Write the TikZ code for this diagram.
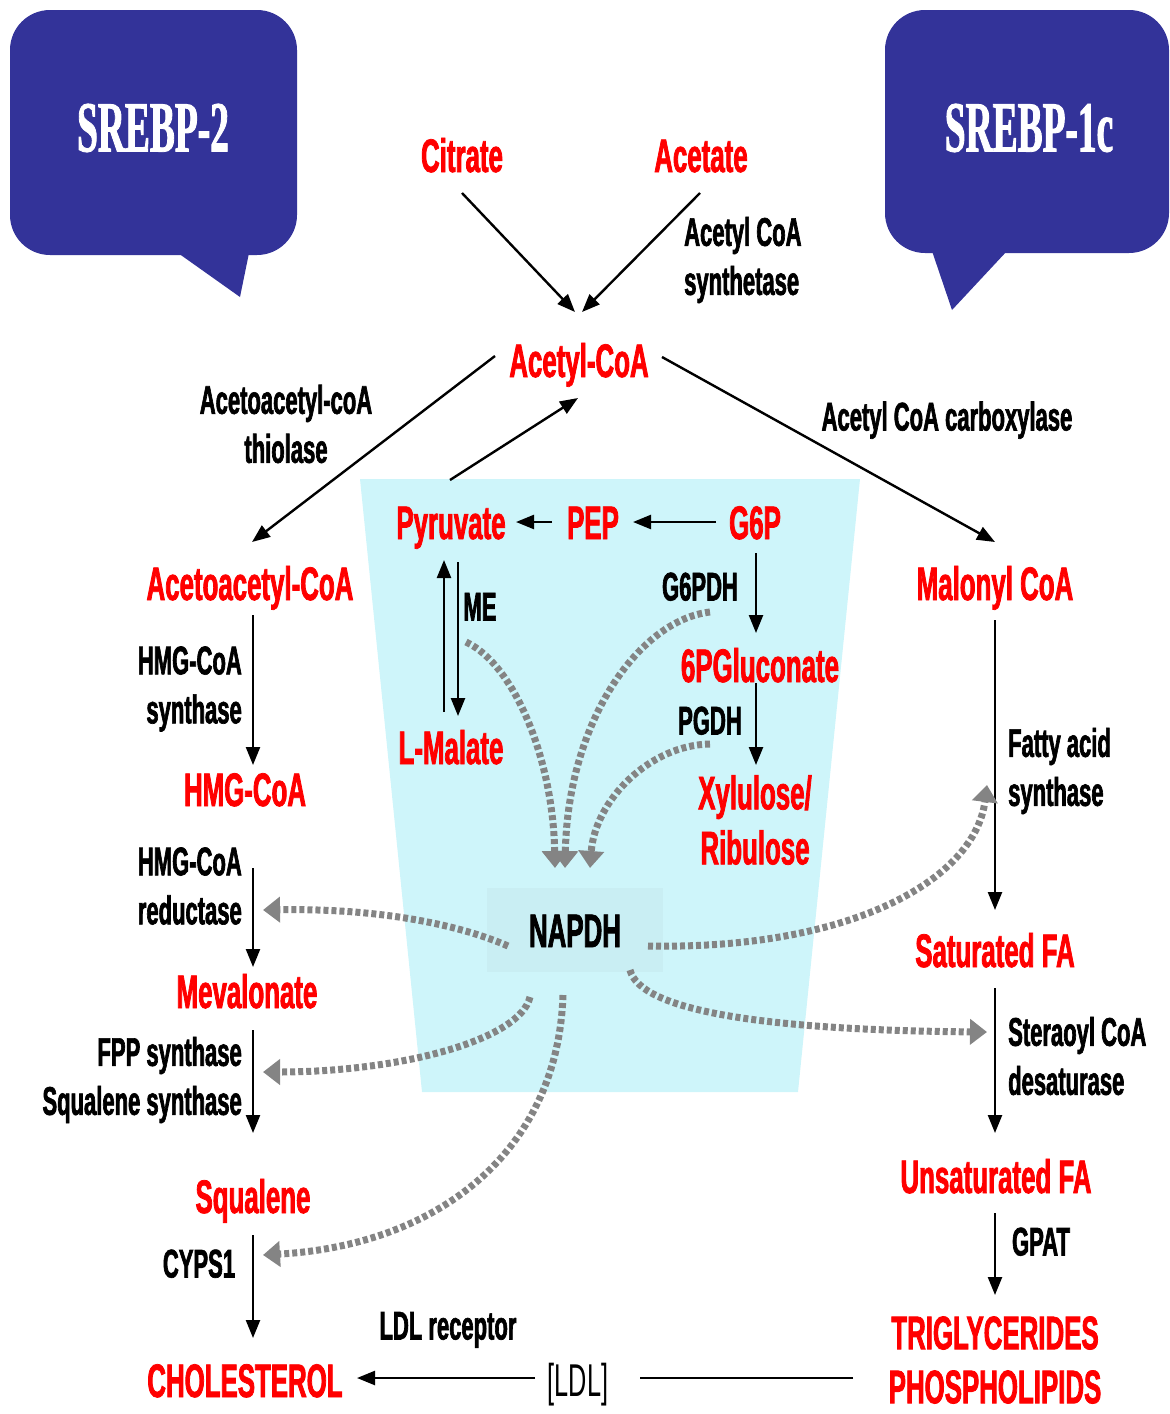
\documentclass[tikz,border=0pt]{standalone}
\usepackage{fontspec}
\usepackage{xcolor}
\usepackage{tikz}
\usetikzlibrary{shapes, arrows, arrows.meta, positioning, calc}

\newfontfamily\condsans[FakeStretch=0.55, BoldFont={Liberation Sans Bold}, BoldFeatures={FakeBold=1.6}]{Liberation Sans}
\newfontfamily\condserif[FakeStretch=0.52, BoldFont={Liberation Serif Bold}, BoldFeatures={FakeBold=1.2}]{Liberation Serif}

\definecolor{bubbleblue}{RGB}{51,51,153}
\definecolor{trapcyan}{RGB}{206,245,250}
\definecolor{napbox}{RGB}{201,238,243}
\definecolor{dashgray}{RGB}{132,132,132}

\tikzset{
    metab/.style={text=red, font=\condsans\bfseries\fontsize{47}{57}\selectfont, inner sep=0pt, text height=34pt, text depth=0pt},
    metabtwo/.style={text=red, font=\condsans\bfseries\fontsize{47}{55}\selectfont, inner sep=0pt, align=center},
    enz/.style={font=\condsans\bfseries\fontsize{40}{49}\selectfont, inner sep=0pt},
    enzone/.style={enz, text height=29pt, text depth=0pt},
    srebp/.style={text=white, font=\condserif\bfseries\fontsize{72}{80}\selectfont, inner sep=0pt},
    arr/.style={-{Triangle[length=18pt,width=14pt]}, line width=2.4pt},
    nadarr/.style={draw=dashgray, line width=7pt, dash pattern=on 5pt off 3pt, -{Triangle[length=17pt,width=25pt]}, dashgray},
}

\begin{document}
\begin{tikzpicture}[x=1pt, y=-1pt]
    \useasboundingbox (0,0) rectangle (1170,1414);

    % Speech bubbles
    \fill[bubbleblue, rounded corners=40pt] (10,10) rectangle (297,255);
    \fill[bubbleblue] (178,253) -- (249,253) -- (240,297) -- cycle;
    \fill[bubbleblue, rounded corners=40pt] (885,10) rectangle (1169,253);
    \fill[bubbleblue] (932,251) -- (1007,251) -- (952,310) -- cycle;
    \node[srebp] (srebptwo) at (153,128) {SREBP-2};
    \node[srebp] (srebpone) at (1029,128) {SREBP-1c};

    % Central trapezoid
    \fill[trapcyan] (360,479) -- (860,479) -- (798,1092) -- (422,1092) -- cycle;

    % Top metabolites
    \node[metab] (citrate) at (462,155) {Citrate};
    \node[metab] (acetate) at (701,155) {Acetate};
    \node[enz, anchor=west, align=left] (acsyn) at (684,260) {Acetyl CoA\\synthetase};
    \node[metab] (acoa) at (579,360) {Acetyl-CoA};
    \node[enz, align=center] (thiol) at (286,424) {Acetoacetyl-coA\\thiolase};
    \node[enzone] (acc) at (947,416) {Acetyl CoA carboxylase};

    % Glycolysis and pentose phosphate
    \node[metab] (pyr) at (451,522) {Pyruvate};
    \node[metab] (pep) at (593,522) {PEP};
    \node[metab] (gsixp) at (755,522) {G6P};
    \node[enzone] (me) at (480,606) {ME};
    \node[enzone] (gpdh) at (700,586) {G6PDH};
    \node[metab] (gluc) at (760,665) {6PGluconate};
    \node[enzone] (pgdh) at (710,720) {PGDH};
    \node[metab] (malate) at (451,747) {L-Malate};
    \node[metabtwo] (xyl) at (755,820) {Xylulose/\\Ribulose};
    \node[font=\condsans\bfseries\fontsize{47}{56}\selectfont, inner sep=0pt, text height=34pt, text depth=0pt,
          fill=napbox, minimum width=176pt, minimum height=84pt] (napdh) at (575,930) {NAPDH};

    % Cholesterol branch
    \node[metab] (acac) at (250,583) {Acetoacetyl-CoA};
    \node[enz, anchor=east, align=right] (hmgsyn) at (242,689) {HMG-CoA\\synthase};
    \node[metab] (hmg) at (245,789) {HMG-CoA};
    \node[enz, anchor=east, align=right] (hmgred) at (242,886) {HMG-CoA\\reductase};
    \node[metab] (meval) at (247,991) {Mevalonate};
    \node[enz, anchor=east, align=right] (fppsyn) at (242,1080) {FPP synthase\\Squalene synthase};
    \node[metab] (squal) at (253,1196) {Squalene};
    \node[enzone] (cyps) at (199,1263) {CYPS1};
    \node[metab] (chol) at (245,1380) {CHOLESTEROL};
    \node[enzone] (ldlr) at (448,1325) {LDL receptor};
    \node[font=\condsans\fontsize{46}{54}\selectfont, inner sep=0pt, text height=33pt, text depth=0pt] (ldl) at (578,1380) {[LDL]};

    % Fatty acid branch
    \node[metab] (malonyl) at (995,583) {Malonyl CoA};
    \node[enz, anchor=west, align=left] (fas) at (1008,771) {Fatty acid\\synthase};
    \node[metab] (satfa) at (995,950) {Saturated FA};
    \node[enz, anchor=west, align=left] (scd) at (1008,1056) {Steraoyl CoA\\desaturase};
    \node[metab] (unsat) at (996,1176) {Unsaturated FA};
    \node[enzone] (gpat) at (1041,1241) {GPAT};
    \node[text=red, font=\condsans\bfseries\fontsize{47}{54}\selectfont, inner sep=0pt, align=center] (tg) at (995,1360) {TRIGLYCERIDES\\PHOSPHOLIPIDS};

    % Black pathway arrows
    \draw[arr] ($(citrate)+(0,38)$) -- ($(acoa)+(-4,-48)$);
    \draw[arr] ($(acetate)+(-1,38)$) -- ($(acoa)+(3,-48)$);
    \draw[arr] ($(acoa)+(-84,-4)$) -- ($(acac)+(2,-41)$);
    \draw[arr] ($(pyr)+(-1,-42)$) -- ($(acoa)+(-1,38)$);
    \draw[arr] ($(acoa)+(83,-3)$) -- ($(malonyl)+(0,-41)$);
    \draw[arr] ($(pep)+(-41,0)$) -- ($(pyr)+(65,0)$);
    \draw[arr] ($(gsixp)+(-39,0)$) -- ($(pep)+(40,0)$);
    \draw[arr] ($(malate)+(-7,-35)$) -- ($(pyr)+(-7,38)$);
    \draw[arr] ($(pyr)+(7,40)$) -- ($(malate)+(7,-31)$);
    \draw[arr] ($(gsixp)+(1,31)$) -- ($(gluc)+(-4,-32)$);
    \draw[arr] ($(gluc)+(-4,18)$) -- ($(xyl)+(1,-55)$);
    \draw[arr] ($(acac)+(3,32)$) -- ($(hmg)+(8,-24)$);
    \draw[arr] ($(hmg)+(8,79)$) -- ($(meval)+(6,-24)$);
    \draw[arr] ($(meval)+(6,39)$) -- ($(squal)+(0,-63)$);
    \draw[arr] ($(squal)+(0,39)$) -- ($(chol)+(8,-42)$);
    \draw[arr] ($(malonyl)+(0,37)$) -- ($(satfa)+(0,-40)$);
    \draw[arr] ($(satfa)+(0,38)$) -- ($(unsat)+(-1,-43)$);
    \draw[arr] ($(unsat)+(-1,37)$) -- ($(tg)+(0,-65)$);
    \draw[arr] ($(ldl)+(-43,-2)$) -- ($(chol)+(112,-2)$);
    \draw[line width=2.4pt] ($(tg)+(-142,18)$) -- ($(ldl)+(62,-2)$);

    % NAPDH supply (dashed grey)
    \draw[nadarr] ($(me)+(-14,36)$) .. controls (515,665) and (553,760) .. ($(napdh)+(-20,-62)$);
    \draw[nadarr] ($(gpdh)+(10,26)$) .. controls (640,620) and (568,720) .. ($(napdh)+(-10,-62)$);
    \draw[nadarr] ($(pgdh)+(0,24)$) .. controls (650,745) and (595,800) .. ($(napdh)+(15,-62)$);
    \draw[nadarr] ($(napdh)+(-67,16)$) .. controls (460,925) and (380,908) .. ($(hmgred.east)+(21,24)$);
    \draw[nadarr] ($(napdh)+(-45,67)$) .. controls (520,1040) and (400,1072) .. ($(fppsyn.east)+(21,-8)$);
    \draw[nadarr] ($(napdh)+(-12,65)$) .. controls (558,1150) and (440,1245) .. ($(cyps)+(64,-8)$);
    \draw[nadarr] ($(napdh)+(73,16)$) .. controls (850,950) and (975,880) .. ($(fas.west)+(-21,14)$);
    \draw[nadarr] ($(napdh)+(55,40)$) .. controls (640,1010) and (760,1030) .. ($(scd.west)+(-21,-24)$);
\end{tikzpicture}
\end{document}
